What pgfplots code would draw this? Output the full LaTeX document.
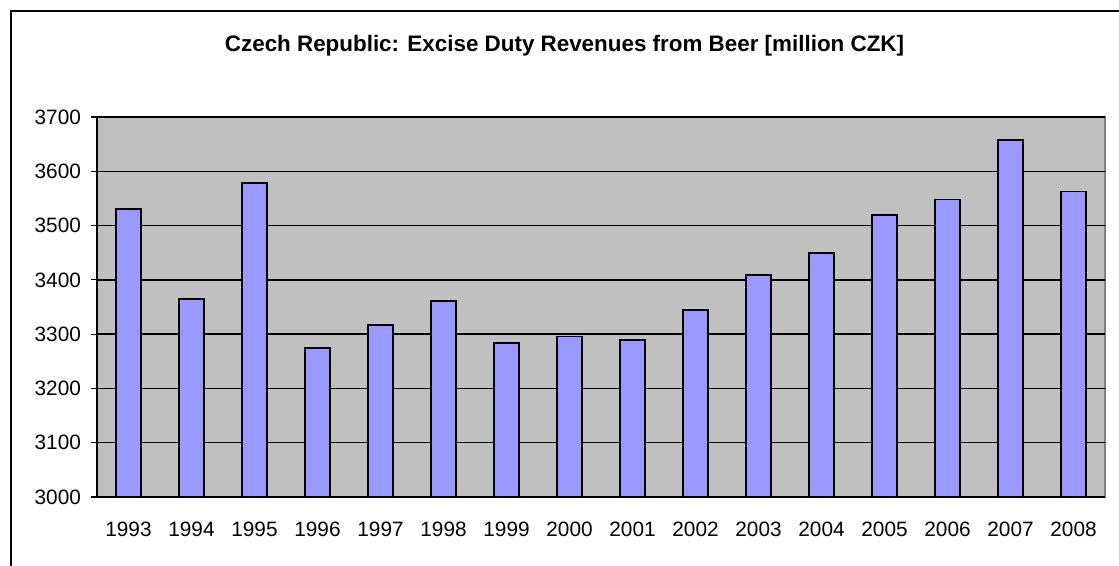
\documentclass[border=0pt]{standalone}
\usepackage{pgfplots}
\pgfplotsset{compat=1.18}
\usepackage{fontspec}
\setmainfont{Liberation Sans}
\definecolor{barfill}{HTML}{9999FF}
\definecolor{plotbg}{HTML}{C0C0C0}
\definecolor{framegray}{HTML}{808080}
\begin{document}
\begin{tikzpicture}
\useasboundingbox (0,0) rectangle (839.25pt,423.75pt);
\draw[line width=1.5pt] (8.25pt,-10pt) -- (8.25pt,415.5pt) -- (850pt,415.5pt);
\node[font=\fontsize{16.8}{19}\selectfont\bfseries] at (423.4pt,389.5pt) {Czech Republic: Excise Duty Revenues from Beer [million CZK]};
\begin{axis}[
  at={(72.75pt,51pt)}, anchor=south west,
  scale only axis, width=756pt, height=285pt,
  xmin=-0.5, xmax=15.5, ymin=3000, ymax=3700,
  ytick={3000,3100,...,3700},
  xtick={0,...,15},
  xticklabels={1993,1994,1995,1996,1997,1998,1999,2000,2001,2002,2003,2004,2005,2006,2007,2008},
  minor xtick={-0.5,0.5,...,15.5},
  xtick style={draw=none},
  minor tick length=4.5pt, major tick length=4.5pt,
  tick align=outside,
  tick style={black, line width=0.9pt},
  ymajorgrids, grid style={black, line width=1pt},
  axis lines*=left,
  axis line style={-, black, line width=1.1pt},
  axis background/.style={fill=plotbg, draw=framegray, line width=1.2pt},
  ticklabel style={font=\fontsize{15.6}{18}\selectfont},
  /pgf/number format/assume math mode=true,
  /pgf/number format/1000 sep={},
  xticklabel style={yshift=-11pt},
  yticklabel style={xshift=-4pt},
]
\addplot[ybar, bar width=0.4, fill=barfill, draw=black, line width=1.2pt] coordinates {
(0,3530) (1,3365) (2,3578) (3,3274) (4,3317) (5,3361) (6,3284) (7,3296)
(8,3289) (9,3344) (10,3409) (11,3449) (12,3519) (13,3548) (14,3658) (15,3563)
};
\end{axis}
\end{tikzpicture}
\end{document}
